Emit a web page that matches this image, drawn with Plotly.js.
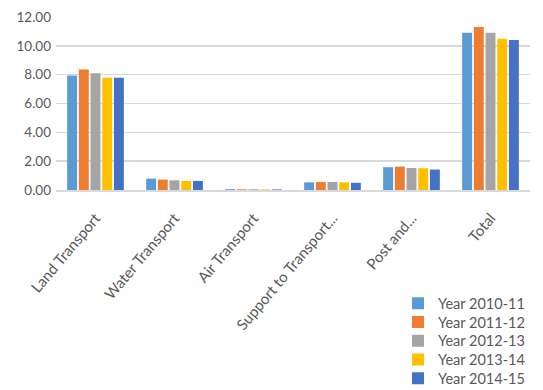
<!DOCTYPE html>
<html><head><meta charset="utf-8">
<script src="https://cdn.plot.ly/plotly-3.0.1.min.js"></script>
<style>html,body{margin:0;padding:0;background:#fff}#c{width:543px;height:390px}</style>
</head><body><div id="c"></div>
<script>
var categories = ["Land Transport","Water Transport","Air Transport","Support to Transport...","Post and...","Total"];
var seriesNames = ["Year 2010-11","Year 2011-12","Year 2012-13","Year 2013-14","Year 2014-15"];
var y2010 = [7.94,0.79,0.06,0.53,1.58,10.90];
var y2011 = [8.36,0.72,0.05,0.56,1.62,11.31];
var y2012 = [8.10,0.67,0.05,0.56,1.53,10.91];
var y2013 = [7.78,0.63,0.04,0.53,1.51,10.49];
var y2014 = [7.78,0.63,0.04,0.50,1.42,10.40];
var tickVals = [0,2,4,6,8,10,12];
var tickText = ["0.00","2.00","4.00","6.00","8.00","10.00","12.00"];
var colors = ["#5b9bd5","#ed7d31","#a5a5a5","#ffc000","#4472c4"];
var all = [y2010,y2011,y2012,y2013,y2014];
var traces = all.map(function(v,i){
  return {type:"bar", x:categories, y:v, name:seriesNames[i], marker:{color:colors[i]}, hoverinfo:"none"};
});
var layout = {
  width:543, height:390,
  margin:{l:56, r:13, t:17, b:200, autoexpand:false},
  barmode:"group", bargap:0.26, bargroupgap:0.15,
  font:{family:"Lato, 'Open Sans', sans-serif", color:"#595959", size:13},
  paper_bgcolor:"#fff", plot_bgcolor:"#fff",
  xaxis:{tickangle:-50, showgrid:false, showline:true, linecolor:"#d9d9d9", linewidth:1.5, ticks:"", ticklabelstandoff:12, automargin:false, tickfont:{size:15, color:"#595959"}},
  yaxis:{range:[0,12], tickvals:tickVals, ticktext:tickText, showgrid:true, gridcolor:"#d9d9d9", gridwidth:1.5, zeroline:false, showline:false, ticks:"", automargin:false, tickfont:{size:13.5, color:"#595959"}, ticklabelstandoff:4},
  legend:{x:1, xanchor:"right", y:-0.562, yanchor:"top", orientation:"v", font:{size:14.5, color:"#595959"}, tracegroupgap:0, itemwidth:30, bgcolor:"rgba(0,0,0,0)"},
  showlegend:true
};
Plotly.newPlot("c", traces, layout, {displayModeBar:false, staticPlot:true}).then(function(gd){
  var items = gd.querySelectorAll(".legend .traces");
  var y0 = null;
  items.forEach(function(el, i){
    var t = el.getAttribute("transform") || "";
    var m = /translate\(\s*([-\d.]+)[ ,]+([-\d.]+)\s*\)/.exec(t);
    if(!m) return;
    if(y0 === null) y0 = parseFloat(m[2]);
    el.setAttribute("transform", "translate(" + m[1] + "," + (y0 + i*18.8) + ")");
  });
});
</script></body></html>
